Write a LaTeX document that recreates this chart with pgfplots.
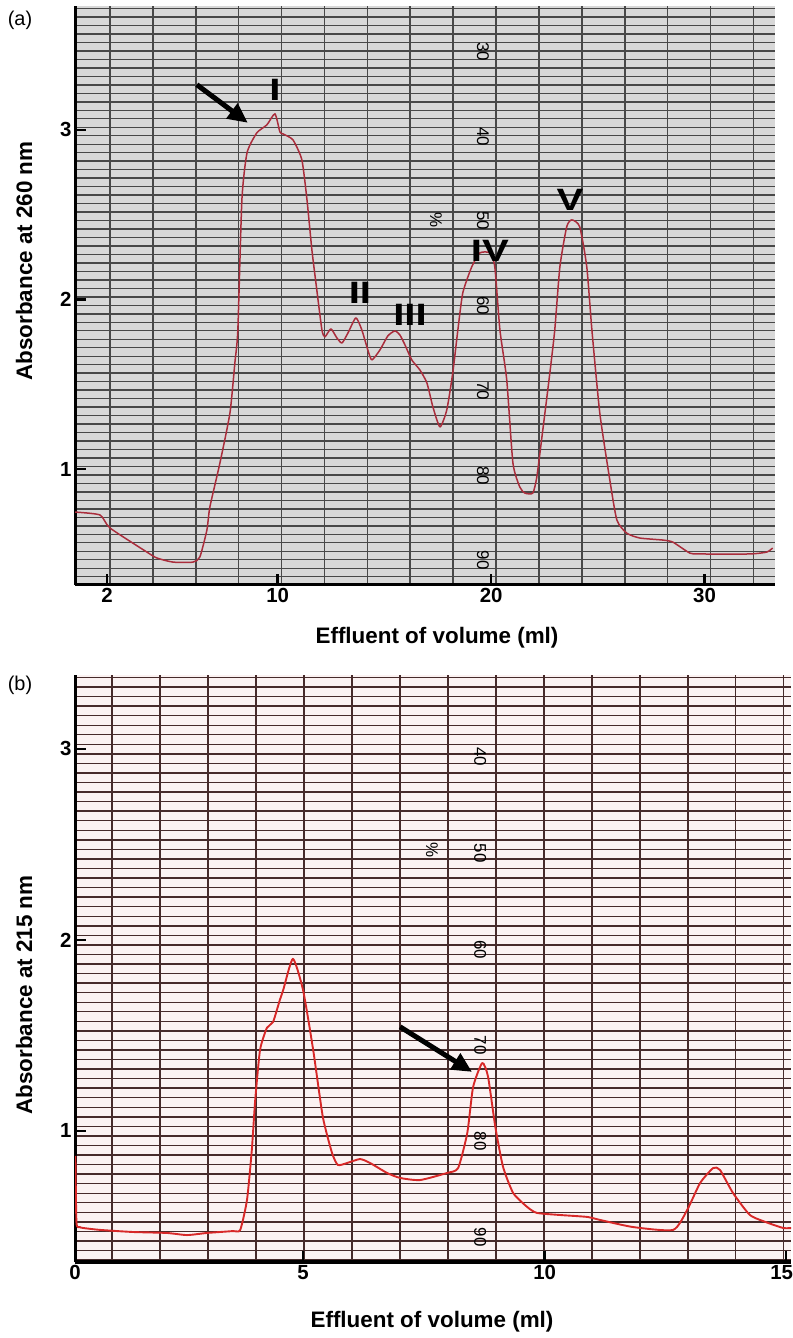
\documentclass[border=0pt]{standalone}
\usepackage{fontspec}
\setmainfont{Liberation Sans}
\usepackage{pgfplots}
\pgfplotsset{compat=1.18}
\usetikzlibrary{arrows.meta}

\definecolor{paperA}{RGB}{216,216,216}
\definecolor{gridA}{RGB}{72,72,72}
\definecolor{curveA}{RGB}{170,45,60}
\definecolor{paperB}{RGB}{251,242,242}
\definecolor{gridB}{RGB}{70,42,42}
\definecolor{curveB}{RGB}{215,40,40}

\pgfplotsset{
  chart/.style={
    scale only axis,
    axis x line=bottom, axis y line=left,
    axis line style={line width=3bp, -},
    tick align=inside,
    major tick length=11bp,
    minor tick length=0pt,
    every tick/.style={black, line width=2.5bp},
    xminorgrids=true, yminorgrids=true,
    xmajorgrids=false, ymajorgrids=false,
    ticklabel style={font=\fontsize{20.5}{20.5}\selectfont\bfseries},
    /pgf/number format/assume math mode=true,
  },
}
\tikzset{
  pct/.style={rotate=-90, font=\fontsize{17}{17}\selectfont},
  roman/.style={font=\fontsize{31}{31}\selectfont\bfseries, xscale=1.3},
  bigarrow/.style={line width=5bp, -{Triangle[length=20bp,width=18bp]}},
}

\begin{document}
\begin{tikzpicture}
\useasboundingbox (0,0) rectangle (793bp,1338bp);

% ---------------- Panel (a) ----------------
\begin{axis}[chart, at={(75bp,753bp)}, anchor=south west,
  width=700bp, height=579bp,
  xmin=0.5, xmax=33.3, ymin=0.316, ymax=3.73,
  xtick={2,10,20,30}, xticklabels={2,10,20,30},
  ytick={1,2,3}, yticklabels={1,2,3},
  minor xtick={2.14,4.15,...,33.2},
  minor ytick={0.365,0.415,...,3.72},
  axis background/.style={fill=paperA},
  minor x grid style={gridA, line width=1.6bp},
  minor y grid style={gridA, line width=1.4bp},
]
\node[pct] at (axis cs:19.61,3.460) {30};
\node[pct] at (axis cs:19.61,2.959) {40};
\node[pct] at (axis cs:19.61,2.463) {50};
\node[pct] at (axis cs:19.61,1.962) {60};
\node[pct] at (axis cs:19.61,1.460) {70};
\node[pct] at (axis cs:19.61,0.959) {80};
\node[pct] at (axis cs:19.61,0.463) {90};
\node[pct] at (axis cs:17.41,2.469) {\%};

\addplot[curveA, line width=1.5bp, line join=round, smooth, tension=0.35] coordinates {
(0.5,0.746) (1.67,0.729) (2.14,0.652) (3.87,0.510) (4.34,0.475) (5.09,0.451)
(6.03,0.451) (6.35,0.481) (6.68,0.640) (6.82,0.776) (7.29,1.035) (7.76,1.330)
(7.99,1.625) (8.13,1.820) (8.32,2.587) (8.56,2.864) (9.02,2.982) (9.49,3.029)
(9.87,3.094) (10.10,2.988) (10.24,2.976) (10.71,2.941) (11.13,2.823) (11.37,2.587)
(11.60,2.292) (11.83,2.056) (12.07,1.820) (12.21,1.779) (12.49,1.826) (12.77,1.773)
(13.01,1.743) (13.29,1.802) (13.66,1.891) (13.94,1.820) (14.22,1.702) (14.41,1.643)
(14.79,1.702) (15.16,1.785) (15.49,1.814) (15.72,1.791) (15.96,1.732) (16.28,1.643)
(16.66,1.584) (16.99,1.507) (17.27,1.366) (17.60,1.248) (17.92,1.348) (18.20,1.566)
(18.44,1.820) (18.67,2.038) (19.09,2.192) (19.47,2.274) (19.94,2.274) (20.17,2.192)
(20.41,1.820) (20.73,1.525) (21.02,1.035) (21.34,0.894) (21.58,0.858) (21.95,0.858)
(22.14,0.953) (22.42,1.230) (22.75,1.566) (22.98,1.820) (23.22,2.192) (23.54,2.428)
(23.78,2.469) (24.15,2.428) (24.48,2.192) (24.72,1.820) (25.09,1.330) (25.56,0.935)
(25.89,0.699) (26.35,0.622) (26.96,0.593) (28.04,0.581) (28.51,0.569) (29.31,0.504)
(29.77,0.499) (32.12,0.499) (32.91,0.510) (33.19,0.534)
};

\draw[bigarrow] (axis cs:6.21,3.266) -- (axis cs:8.60,3.041);
\node[roman] at (axis cs:9.87,3.236) {I};
\node[roman] at (axis cs:13.85,2.038) {II};
\node[roman] at (axis cs:16.20,1.909) {III};
\node[roman] at (axis cs:19.94,2.286) {IV};
\node[roman] at (axis cs:23.69,2.587) {V};
\end{axis}

% ---------------- Panel (b) ----------------
\begin{axis}[chart, at={(75bp,76bp)}, anchor=south west,
  width=716bp, height=587bp,
  xmin=0.28, xmax=15.10, ymin=0.314, ymax=3.387,
  xtick={0.28,5,10,15}, xticklabels={0,5,10,15\hspace*{9bp}},
  ytick={1,2,3}, yticklabels={1,2,3},
  minor xtick={1.046,2.039,...,15.05},
  minor ytick={0.324,0.374,...,3.38},
  axis background/.style={fill=paperB},
  minor x grid style={gridB, line width=1.6bp},
  minor y grid style={gridB, line width=1.4bp},
]
\node[pct] at (axis cs:8.665,2.958) {40};
\node[pct] at (axis cs:8.665,2.455) {50};
\node[pct] at (axis cs:8.665,1.950) {60};
\node[pct] at (axis cs:8.665,1.449) {70};
\node[pct] at (axis cs:8.665,0.946) {80};
\node[pct] at (axis cs:8.665,0.443) {90};
\node[pct] at (axis cs:7.67,2.471) {\%};

\addplot[curveB, line width=1.9bp, line join=round, smooth, tension=0.35] coordinates {
(0.29,0.87) (0.31,0.52) (0.38,0.497) (0.45,0.492) (0.80,0.482) (1.48,0.471)
(2.18,0.466) (2.60,0.455) (3.01,0.466) (3.55,0.476) (3.70,0.482) (3.84,0.639)
(3.94,0.901) (4.01,1.162) (4.11,1.424) (4.25,1.539) (4.38,1.571) (4.52,1.686)
(4.59,1.738) (4.79,1.901) (5.00,1.738) (5.21,1.424) (5.41,1.073) (5.60,0.885)
(5.72,0.822) (5.91,0.832) (6.18,0.853) (6.39,0.832) (6.74,0.780) (7.01,0.754)
(7.42,0.743) (7.98,0.780) (8.21,0.806) (8.40,0.990) (8.52,1.230) (8.71,1.356)
(8.83,1.283) (8.98,1.021) (9.14,0.812) (9.35,0.675) (9.64,0.602) (9.84,0.571)
(10.32,0.560) (10.88,0.550) (11.15,0.534) (11.83,0.497) (12.66,0.482) (12.95,0.586)
(13.22,0.728) (13.49,0.806) (13.63,0.796) (13.90,0.675) (14.25,0.560) (14.61,0.520)
(14.94,0.492) (15.12,0.492)
};

\draw[bigarrow] (axis cs:7.01,1.545) -- (axis cs:8.50,1.309);
\end{axis}

% ---------------- Outer texts ----------------
\node[font=\fontsize{20}{20}\selectfont] at (20bp,1318bp) {(a)};
\node[font=\fontsize{20}{20}\selectfont] at (20bp,653bp) {(b)};
\node[rotate=90, font=\fontsize{22.5}{22.5}\selectfont\bfseries] at (24bp,1077bp) {Absorbance at 260 nm};
\node[rotate=90, font=\fontsize{22.5}{22.5}\selectfont\bfseries] at (24bp,343bp) {Absorbance at 215 nm};
\node[font=\fontsize{22.5}{22.5}\selectfont\bfseries] at (437bp,700bp) {Effluent of volume (ml)};
\node[font=\fontsize{22.5}{22.5}\selectfont\bfseries] at (432bp,16bp) {Effluent of volume (ml)};
\end{tikzpicture}
\end{document}
